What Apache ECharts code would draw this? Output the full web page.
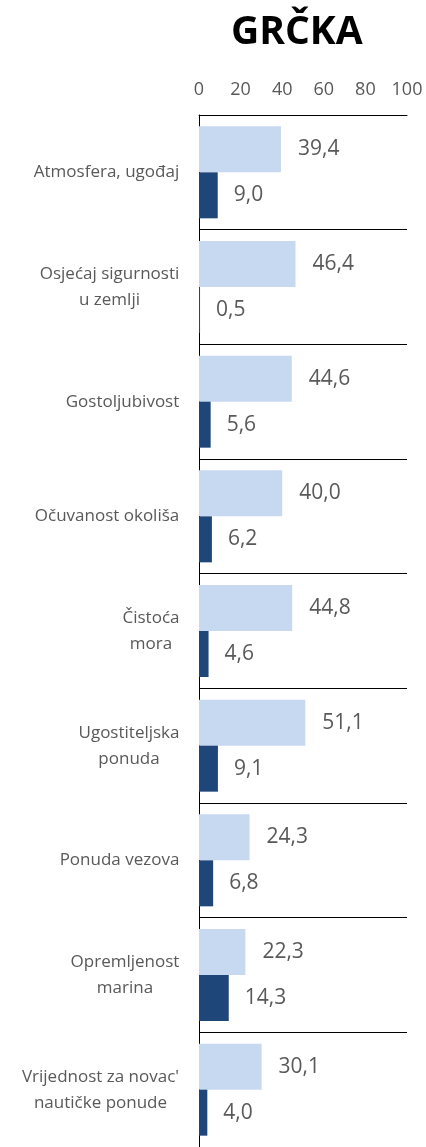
<!DOCTYPE html>
<html>
<head>
<meta charset="utf-8">
<style>
  html, body { margin: 0; padding: 0; background: #fff; }
  #chart { width: 426px; height: 1147px; }
</style>
<script src="https://cdn.jsdelivr.net/npm/echarts@6/dist/echarts.min.js"></script>
</head>
<body>
<div id="chart"></div>
<script>
const categories = [
  'Atmosfera, ugođaj',
  'Osjećaj sigurnosti\nu zemlji',
  'Gostoljubivost',
  'Očuvanost okoliša',
  'Čistoća\nmora',
  'Ugostiteljska\nponuda',
  'Ponuda vezova',
  'Opremljenost\nmarina',
  'Vrijednost za novac\'\nnautičke ponude'
]
const lightData = [39.4, 46.4, 44.6, 40.0, 44.8, 51.1, 24.3, 22.3, 30.1]
const darkData = [9.0, 0.5, 5.6, 6.2, 4.6, 9.1, 6.8, 14.3, 4.0]
const tickValues = [0, 20, 40, 60, 80, 100]

const labelFont = '17px "Open Sans"'
const fmt = v => v.toFixed(1).replace('.', ',')

// measure each label so the lines can be centred inside a right-aligned block
const ctx = document.createElement('canvas').getContext('2d')
ctx.font = labelFont
const rich = {}
categories.forEach((c, i) => {
  const w = Math.max(...c.split('\n').map(s => ctx.measureText(s).width))
  rich['l' + i] = { width: Math.ceil(w) + 1, align: 'center', fontSize: 17, lineHeight: 26, color: '#595959', fontFamily: 'Open Sans' }
})

const chart = echarts.init(document.getElementById('chart'))
chart.setOption({
  animation: false,
  title: {
    text: 'GRČKA',
    left: 226,
    top: 8,
    textStyle: { fontFamily: 'Open Sans', fontWeight: 'bold', fontSize: 39, color: '#000' }
  },
  grid: { left: 199, top: 115, width: 208, height: 1038 },
  xAxis: {
    type: 'value',
    position: 'top',
    min: 0,
    max: 100,
    interval: 20,
    axisLine: { show: true, lineStyle: { color: '#000', width: 1 } },
    axisTick: { show: false },
    splitLine: { show: false },
    axisLabel: {
      margin: 16,
      fontSize: 18,
      fontFamily: 'Open Sans',
      color: '#595959',
      formatter: v => tickValues.includes(v) ? String(v) : ''
    }
  },
  yAxis: {
    type: 'category',
    inverse: true,
    data: categories,
    axisLine: { show: true, lineStyle: { color: '#000', width: 1 } },
    axisTick: { show: false },
    splitLine: { show: true, lineStyle: { color: '#000', width: 1 } },
    axisLabel: {
      margin: 19,
      interval: 0,
      align: 'right',
      rich,
      formatter: (v, i) => v.split('\n').map(s => '{l' + i + '|' + s + '}').join('\n')
    }
  },
  series: [{
    name: 'light',
    type: 'bar',
    data: lightData,
    barWidth: 46,
    barGap: '0%',
    itemStyle: { color: '#C6D9F1' },
    label: {
      show: true, position: 'right', distance: 17,
      fontSize: 21, fontFamily: 'Open Sans', color: '#595959',
      formatter: p => fmt(p.value)
    }
  }, {
    name: 'dark',
    type: 'bar',
    data: darkData,
    barWidth: 46,
    barGap: '0%',
    itemStyle: { color: '#1F4679' },
    label: {
      show: true, position: 'right', distance: 16,
      fontSize: 21, fontFamily: 'Open Sans', color: '#595959',
      formatter: p => fmt(p.value)
    }
  }]
})
</script>
</body>
</html>
